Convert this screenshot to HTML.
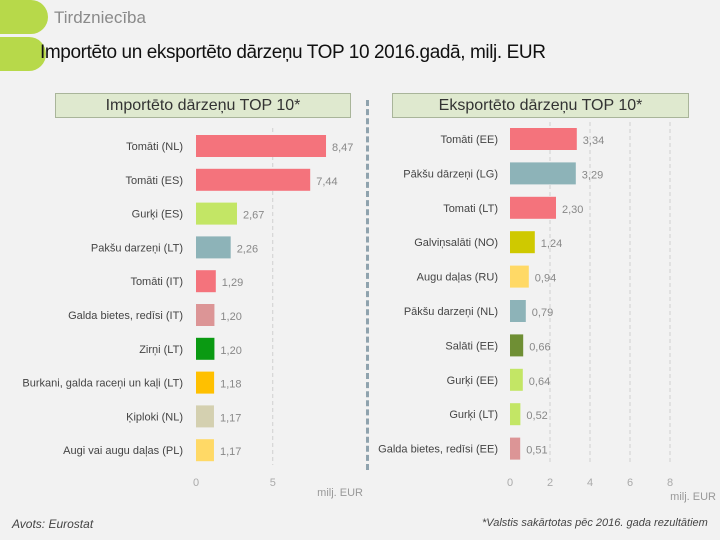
<!DOCTYPE html>
<html><head><meta charset="utf-8"><style>
body{margin:0;width:720px;height:540px;background:#f2f2f2;font-family:"Liberation Sans",sans-serif;overflow:hidden;position:relative}
.t{position:absolute;white-space:nowrap}
</style></head><body>
<div style="position:absolute;left:-10px;top:0;width:58px;height:34px;background:#b7d94a;border-radius:0 17px 17px 0"></div>
<div style="position:absolute;left:-10px;top:37px;width:56px;height:34px;background:#b7d94a;border-radius:0 17px 17px 0"></div>
<div class="t" style="left:54px;top:8px;font-size:17px;color:#8a8a8a">Tirdzniecība</div>
<div class="t" style="left:40px;top:42px;font-size:19px;color:#111;letter-spacing:-0.4px">Importēto un eksportēto dārzeņu TOP 10 2016.gadā, milj. EUR</div>
<div style="position:absolute;left:55px;top:93px;width:296px;height:25px;background:#dfe9cf;border:1px solid #a9b59a;box-sizing:border-box;text-align:center;font-size:16px;line-height:23px;color:#333">Importēto dārzeņu TOP 10*</div>
<div style="position:absolute;left:392px;top:93px;width:297px;height:25px;background:#dfe9cf;border:1px solid #a9b59a;box-sizing:border-box;text-align:center;font-size:16px;line-height:23px;color:#333">Eksportēto dārzeņu TOP 10*</div>
<div style="position:absolute;left:366px;top:100px;height:370px;border-left:3px dashed #8fa3ae"></div>
<svg id="c" width="720" height="540" style="position:absolute;left:0;top:0"></svg>
<div class="t" style="left:12px;top:517px;font-size:12px;font-style:italic;color:#444">Avots: Eurostat</div>
<div class="t" style="left:482px;top:517px;font-size:11px;font-style:italic;color:#444">*Valstis sakārtotas pēc 2016. gada rezultātiem</div>
<script>
const impCats=["Tomāti (NL)","Tomāti (ES)","Gurķi  (ES)","Pakšu darzeņi (LT)","Tomāti (IT)","Galda bietes, redīsi (IT)","Zirņi (LT)","Burkani, galda raceņi un kaļi (LT)","Ķiploki (NL)","Augi vai augu daļas (PL)"];
const impVals=[8.47,7.44,2.67,2.26,1.29,1.20,1.20,1.18,1.17,1.17];
const impLabels=["8,47","7,44","2,67","2,26","1,29","1,20","1,20","1,18","1,17","1,17"];
const impColors=["#f4737c","#f4737c","#c3e665","#8db3b8","#f4737c","#dc9596","#0a9a12","#ffc000","#d4d0b0","#ffd966"];
const impTicks=[0,5];
const expCats=["Tomāti (EE)","Pākšu dārzeņi (LG)","Tomati (LT)","Galviņsalāti (NO)","Augu daļas (RU)","Pākšu darzeņi (NL)","Salāti (EE)","Gurķi (EE)","Gurķi (LT)","Galda bietes, redīsi (EE)"];
const expVals=[3.34,3.29,2.30,1.24,0.94,0.79,0.66,0.64,0.52,0.51];
const expLabels=["3,34","3,29","2,30","1,24","0,94","0,79","0,66","0,64","0,52","0,51"];
const expColors=["#f4737c","#8db3b8","#f4737c","#cfc900","#ffd966","#8db3b8","#6f8f34","#c3e665","#c3e665","#dc9596"];
const expTicks=[0,2,4,6,8];
const svg=document.getElementById('c');
const NS="http://www.w3.org/2000/svg";
function mk(tag,at){const e=document.createElementNS(NS,tag);for(const k in at)e.setAttribute(k,at[k]);svg.appendChild(e);return e;}
function chart(p,cats,vals,labels,colors,ticks){
  const x=v=>p.x0+v*p.k, y=i=>p.y0+i*p.step;
  ticks.forEach(t=>{
    if(t>0){const g=mk('line',{x1:x(t),x2:x(t),y1:p.gt,y2:p.gb,stroke:'#d0d0d0','stroke-dasharray':'4,3'});
    
    }
    const tl=mk('text',{x:x(t),y:p.ty,'text-anchor':'middle','font-size':11,fill:'#aaa','font-family':'Liberation Sans'});
    tl.textContent=t;
    
    
  });
  cats.forEach((c,i)=>{
    const cy=y(i);
    const r=mk('rect',{x:x(0),y:cy-11,width:vals[i]*p.k,height:22,fill:colors[i]});
    
    
    const cl=mk('text',{x:p.lx,y:cy+4,'text-anchor':'end','font-size':11,fill:'#444','font-family':'Liberation Sans'});
    cl.textContent=c;
    
    
    const vl=mk('text',{x:x(vals[i])+6,y:cy+5,'font-size':11,fill:'#888','font-family':'Liberation Sans'});
    vl.textContent=labels[i];
    
    
  });
  const u=mk('text',{x:p.ux,y:p.uy,'text-anchor':'end','font-size':11,fill:'#999','font-family':'Liberation Sans'});
  u.textContent='milj. EUR';
  
  
}
chart({x0:196,k:15.35,y0:146,step:33.8,gt:128,gb:465,ty:486,lx:183,ux:363,uy:496},impCats,impVals,impLabels,impColors,impTicks);
chart({x0:510,k:20,y0:139,step:34.4,gt:122,gb:465,ty:486,lx:498,ux:716,uy:500},expCats,expVals,expLabels,expColors,expTicks);
</script>
</body></html>
